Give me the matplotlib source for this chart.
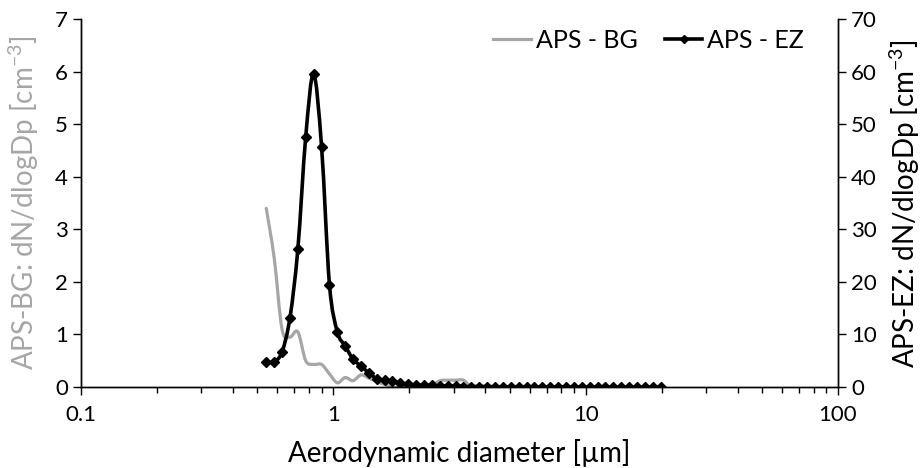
import matplotlib
matplotlib.use("Agg")
import matplotlib.pyplot as plt
import numpy as np
from matplotlib.path import Path
from matplotlib.patches import PathPatch
from matplotlib.lines import Line2D
from matplotlib.ticker import LogLocator, NullFormatter

plt.rcParams['font.family'] = ['Lato', 'DejaVu Sans']
plt.rcParams['mathtext.fontset'] = 'custom'
plt.rcParams['mathtext.rm'] = 'Lato'
plt.rcParams['mathtext.it'] = 'Lato:italic'
plt.rcParams['mathtext.bf'] = 'Lato:bold'

# APS channel midpoints [µm]
diam = [0.542, 0.583, 0.626, 0.673, 0.723, 0.777, 0.835, 0.898, 0.965, 1.037,
        1.114, 1.197, 1.286, 1.382, 1.486, 1.596, 1.715, 1.843, 1.981, 2.129,
        2.288, 2.458, 2.642, 2.839, 3.051, 3.278, 3.523, 3.786, 4.068, 4.371,
        4.698, 5.048, 5.425, 5.829, 6.264, 6.732, 7.234, 7.774, 8.354, 8.977,
        9.647, 10.37, 11.14, 11.97, 12.86, 13.82, 14.86, 15.96, 17.15, 18.43,
        19.81]

ez = [4.8, 4.8, 6.7, 13.2, 26.2, 47.6, 59.6, 45.7, 19.5, 10.5,
      7.8, 5.3, 4.0, 2.7, 1.6, 1.3, 1.2, 0.7, 0.5, 0.4,
      0.3, 0.3, 0.2, 0.2, 0.2, 0.1, 0.1, 0.1, 0.1, 0.05,
      0.05, 0.05, 0.05, 0.05, 0.0, 0.0, 0.0, 0.0, 0.0, 0.0,
      0.0, 0.0, 0.0, 0.0, 0.0, 0.0, 0.0, 0.0, 0.0, 0.0,
      0.0]

bg = [3.4, 2.45, 1.1, 0.95, 1.05, 0.5, 0.43, 0.43, 0.25, 0.08,
      0.18, 0.12, 0.23, 0.17, 0.1, 0.05, 0.0, 0.0, 0.0, 0.0,
      0.0, 0.03, 0.12, 0.13, 0.13, 0.13, 0.0, 0.0, 0.0, 0.0,
      0.0, 0.0, 0.0, 0.0, 0.0, 0.0, 0.0, 0.0, 0.0, 0.0,
      0.0, 0.0, 0.0, 0.0, 0.0, 0.0, 0.0, 0.0, 0.0, 0.0,
      0.0]

grey = '#A6A6A6'


def smooth_path(xs, ys):
    """Excel-style smoothed line: cubic Bezier (Catmull-Rom) through the data,
    control points computed in log10(x) / linear y space."""
    lx = np.log10(np.asarray(xs, float))
    y = np.asarray(ys, float)
    n = len(lx)
    verts = [(xs[0], ys[0])]
    codes = [Path.MOVETO]
    for i in range(n - 1):
        i0 = max(i - 1, 0)
        i3 = min(i + 2, n - 1)
        c1x = lx[i] + (lx[i + 1] - lx[i0]) / 6.0
        c1y = y[i] + (y[i + 1] - y[i0]) / 6.0
        c2x = lx[i + 1] - (lx[i3] - lx[i]) / 6.0
        c2y = y[i + 1] - (y[i3] - y[i]) / 6.0
        verts += [(10 ** c1x, c1y), (10 ** c2x, c2y), (xs[i + 1], ys[i + 1])]
        codes += [Path.CURVE4] * 3
    return Path(verts, codes)


fig = plt.figure(figsize=(9.22, 4.68), dpi=100)
ax = fig.add_axes([0.0879, 0.173, 0.8210, 0.786])
ax2 = ax.twinx()

ax.add_patch(PathPatch(smooth_path(diam, bg), facecolor='none',
                       edgecolor=grey, lw=2.3, capstyle='round', joinstyle='round'))
ax2.add_patch(PathPatch(smooth_path(diam, ez), facecolor='none',
                        edgecolor='black', lw=2.6, capstyle='round', joinstyle='round'))
ax2.plot(diam, ez, linestyle='none', marker='D', markersize=5.5, color='black')

ax.set_xscale('log')
ax.set_xlim(0.1, 100)
ax.set_ylim(0, 7)
ax2.set_ylim(0, 70)
ax.set_yticks(range(0, 8))
ax2.set_yticks(range(0, 71, 10))
ax.set_xticks([0.1, 1, 10, 100])
ax.set_xticklabels(['0.1', '1', '10', '100'])
ax.xaxis.set_minor_locator(LogLocator(base=10, subs=range(2, 10), numticks=20))
ax.xaxis.set_minor_formatter(NullFormatter())

for a in (ax, ax2):
    a.spines['top'].set_visible(False)
    for s in a.spines.values():
        s.set_color('black')
        s.set_linewidth(1.0)
    a.tick_params(axis='both', which='major', labelsize=16, length=6,
                  width=1.0, direction='out', colors='black')
    a.tick_params(axis='x', which='minor', length=4, width=1.0, direction='out')
ax.tick_params(axis='x', pad=7)

ax.set_xlabel('Aerodynamic diameter [µm]', fontsize=20, labelpad=10)
ax.set_ylabel('APS-BG: dN/dlogDp [cm$^{-3}$]', fontsize=20, color=grey, labelpad=10)
ax2.set_ylabel('APS-EZ: dN/dlogDp [cm$^{-3}$]', fontsize=20, color='black', labelpad=8)

h_bg = Line2D([], [], color=grey, lw=2.3)
h_ez = Line2D([], [], color='black', lw=2.6, marker='D', markersize=4)
ax2.legend([h_bg, h_ez], ['APS - BG', 'APS - EZ'], loc='upper right',
           bbox_to_anchor=(0.985, 1.035), ncol=2, frameon=False,
           fontsize=18, handlelength=1.5, handletextpad=0.2,
           columnspacing=1.1)

fig.savefig('out.png', dpi=100)
